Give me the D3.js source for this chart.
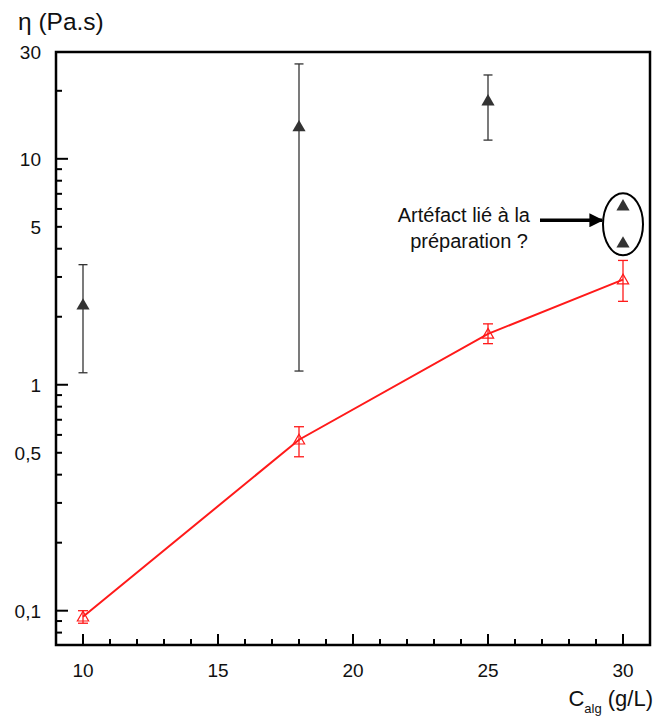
<!DOCTYPE html>
<html><head><meta charset="utf-8">
<script src="https://cdn.jsdelivr.net/npm/d3@7"></script>
<style>body{margin:0;background:#fff}svg{display:block;font-family:"Liberation Sans",Arial,sans-serif}</style>
</head><body><div id="chart"></div>
<script>
// Series 1: black filled triangles with error bars
const blackX = [10, 18, 25];
const blackY = [2.26, 13.9, 18.1];
const blackLo = [1.13, 1.15, 12.1];
const blackHi = [3.4, 26.3, 23.5];
// Artefact points (circled)
const artX = [30, 30];
const artY = [6.2, 4.25];
// Series 2: red open triangles with line
const redX = [10, 18, 25, 30];
const redY = [0.094, 0.571, 1.68, 2.92];
const redLo = [0.088, 0.48, 1.52, 2.34];
const redHi = [0.10, 0.652, 1.86, 3.55];
// Tick labels
const xMajor = [10, 15, 20, 25, 30];
const yLabelled = [0.1, 0.5, 1, 5, 10, 30];
const yLabelText = ["0,1", "0,5", "1", "5", "10", "30"];
const yMinor = [0.08, 0.09, 0.2, 0.3, 0.4, 0.5, 0.6, 0.7, 0.8, 0.9, 2, 3, 4, 5, 6, 7, 8, 9, 20];
const yDecades = [0.1, 1, 10];

const W = 657, H = 718;
const m = {left: 56, right: 650, top: 52, bottom: 645};
const svg = d3.select("#chart").append("svg").attr("width", W).attr("height", H);

const x = d3.scaleLinear().domain([9, 31]).range([m.left, m.right]);
const y = d3.scaleLog().domain([0.0705, 29.7]).range([m.bottom, m.top]);

// frame
svg.append("rect").attr("x", m.left).attr("y", m.top)
  .attr("width", m.right - m.left).attr("height", m.bottom - m.top)
  .attr("fill", "none").attr("stroke", "#000").attr("stroke-width", 2.5);

// x ticks (inward)
const xMinor = d3.range(10, 31, 1);
svg.append("g").selectAll("line").data(xMinor).join("line")
  .attr("x1", d => x(d)).attr("x2", d => x(d))
  .attr("y1", m.bottom).attr("y2", d => m.bottom - (d % 5 === 0 ? 11 : 6))
  .attr("stroke", "#000").attr("stroke-width", 2);
svg.append("g").selectAll("text").data(xMajor).join("text")
  .attr("x", d => x(d)).attr("y", 677).attr("text-anchor", "middle")
  .attr("font-size", 19).attr("fill", "#111").text(d => d);

// y ticks
svg.append("g").selectAll("line").data(yMinor.concat(yDecades)).join("line")
  .attr("x1", m.left).attr("x2", d => m.left + (yDecades.includes(d) ? 12 : 6))
  .attr("y1", d => y(d)).attr("y2", d => y(d))
  .attr("stroke", "#000").attr("stroke-width", 2);
svg.append("g").selectAll("text").data(yLabelled).join("text")
  .attr("x", 41).attr("y", (d, i) => d === 30 ? 59 : y(d) + 7).attr("text-anchor", "end")
  .attr("font-size", 19).attr("fill", "#111").text((d, i) => yLabelText[i]);

// axis titles
svg.append("text").attr("x", 18).attr("y", 30).attr("font-size", 24.5).attr("fill", "#111").text("η (Pa.s)");
const xt = svg.append("text").attr("x", 653).attr("y", 706).attr("text-anchor", "end")
  .attr("font-size", 22).attr("fill", "#111");
xt.append("tspan").text("C");
xt.append("tspan").attr("font-size", 13).attr("dy", 7).text("alg");
xt.append("tspan").attr("dy", -7).text(" (g/L)");

// red line
svg.append("path").datum(redX.map((d, i) => [d, redY[i]]))
  .attr("d", d3.line().x(d => x(d[0])).y(d => y(d[1])))
  .attr("fill", "none").attr("stroke", "#ff1a1a").attr("stroke-width", 2);

// red error bars
const rg = svg.append("g").attr("stroke", "#ff1a1a").attr("stroke-width", 1.3);
redX.forEach((d, i) => {
  rg.append("line").attr("x1", x(d)).attr("x2", x(d)).attr("y1", y(redLo[i])).attr("y2", y(redHi[i]));
  [redLo[i], redHi[i]].forEach(v => rg.append("line").attr("x1", x(d) - 5).attr("x2", x(d) + 5).attr("y1", y(v)).attr("y2", y(v)));
});
const tri = d3.symbol().type(d3.symbolTriangle);
svg.append("g").selectAll("path").data(redX).join("path")
  .attr("transform", (d, i) => `translate(${x(d)},${y(redY[i]) + 1})`)
  .attr("d", tri.size(55)).attr("fill", "none").attr("stroke", "#ff1a1a").attr("stroke-width", 1.2);

// black error bars
const bg = svg.append("g").attr("stroke", "#333").attr("stroke-width", 1.3);
blackX.forEach((d, i) => {
  bg.append("line").attr("x1", x(d)).attr("x2", x(d)).attr("y1", y(blackLo[i])).attr("y2", y(blackHi[i]));
  [blackLo[i], blackHi[i]].forEach(v => bg.append("line").attr("x1", x(d) - 4.5).attr("x2", x(d) + 4.5).attr("y1", y(v)).attr("y2", y(v)));
});
svg.append("g").selectAll("path").data(blackX.map((d, i) => [d, blackY[i]]).concat(artX.map((d, i) => [d, artY[i]])))
  .join("path")
  .attr("transform", d => `translate(${x(d[0])},${y(d[1]) + 1})`)
  .attr("d", d3.symbol().type(d3.symbolTriangle).size(75)).attr("fill", "#333");

// annotation ellipse
const ecx = x(30), ecy = (y(artY[0]) + y(artY[1])) / 2;
svg.append("ellipse").attr("cx", ecx).attr("cy", ecy).attr("rx", 20).attr("ry", 31)
  .attr("fill", "none").attr("stroke", "#000").attr("stroke-width", 2);
// arrow
svg.append("defs").append("marker").attr("id", "ah").attr("viewBox", "0 0 10 10")
  .attr("refX", 9).attr("refY", 5).attr("markerWidth", 4).attr("markerHeight", 4)
  .attr("markerUnits", "strokeWidth").attr("orient", "auto")
  .append("path").attr("d", "M0,0 L10,5 L0,10 z").attr("fill", "#000");
svg.append("line").attr("x1", 540).attr("x2", ecx - 21).attr("y1", ecy - 4).attr("y2", ecy - 4)
  .attr("stroke", "#000").attr("stroke-width", 3.5).attr("marker-end", "url(#ah)");
svg.append("text").attr("x", 530).attr("y", 222).attr("text-anchor", "end")
  .attr("font-size", 20).attr("fill", "#111").text("Artéfact lié à la");
svg.append("text").attr("x", 528).attr("y", 248).attr("text-anchor", "end")
  .attr("font-size", 20).attr("fill", "#111").text("préparation ?");
</script></body></html>
